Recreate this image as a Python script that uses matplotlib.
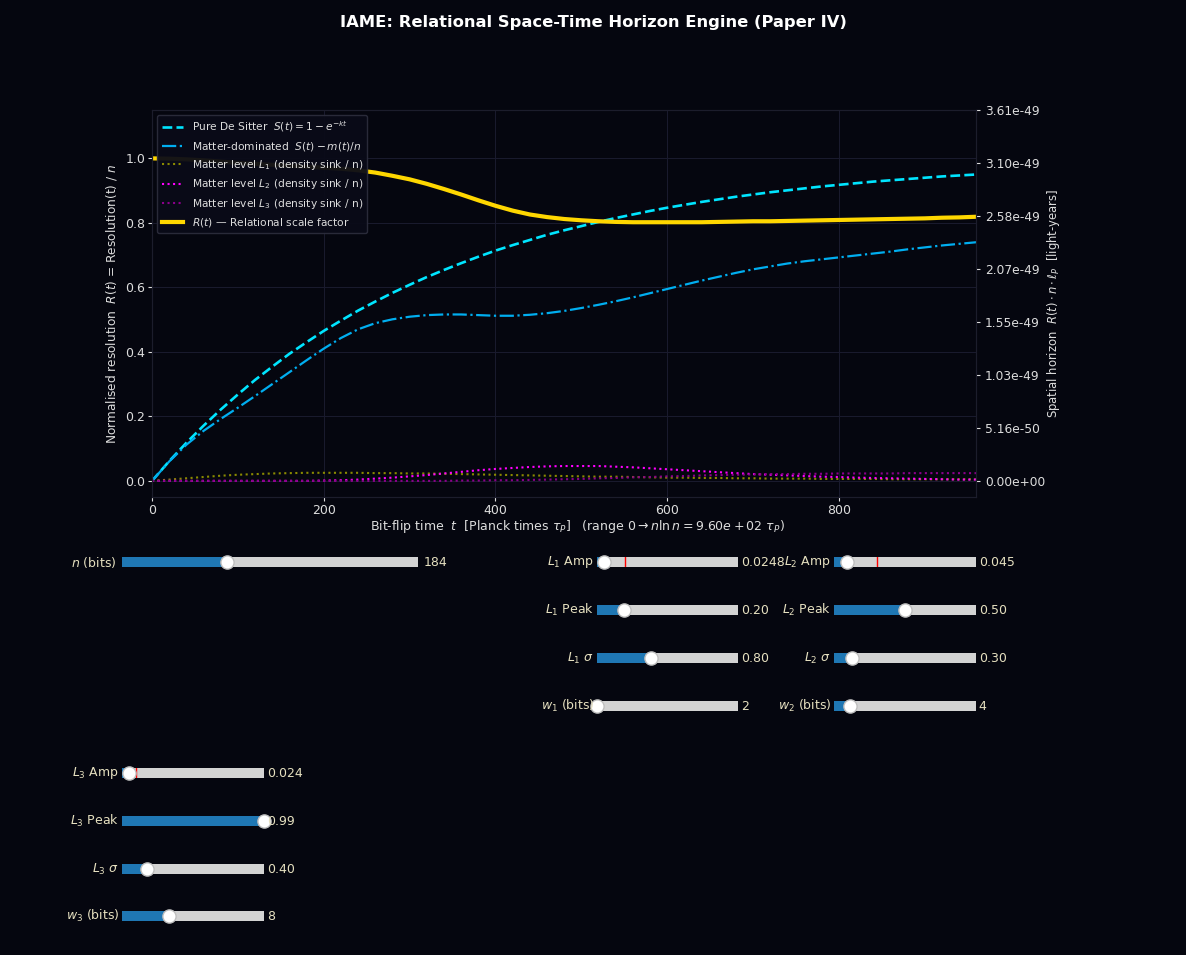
import numpy as np
import matplotlib
matplotlib.use("Agg")
import matplotlib.pyplot as plt
from matplotlib.widgets import Slider

# ---------------------------------------------------------------- data
n_bits = 184
PLANCK_LENGTH_LY = 1.70838e-51          # Planck length expressed in light-years

t_tau = [0, 20, 40, 60, 80, 100, 120, 140, 160, 180, 200, 220, 240, 260, 280,
         300, 320, 340, 360, 380, 400, 420, 440, 460, 480, 500, 520, 540, 560,
         580, 600, 620, 640, 660, 680, 700, 720, 740, 760, 780, 800, 820, 840,
         860, 880, 900, 920, 940, 960]

de_sitter = [0.000, 0.061, 0.118, 0.171, 0.221, 0.268, 0.313, 0.354, 0.394,
             0.430, 0.465, 0.497, 0.528, 0.556, 0.583, 0.608, 0.632, 0.654,
             0.675, 0.695, 0.714, 0.731, 0.747, 0.763, 0.777, 0.790, 0.803,
             0.815, 0.826, 0.837, 0.847, 0.856, 0.865, 0.873, 0.881, 0.888,
             0.895, 0.901, 0.907, 0.913, 0.918, 0.923, 0.928, 0.932, 0.936,
             0.940, 0.944, 0.947, 0.950]

matter_dom = [0.000, 0.060, 0.112, 0.155, 0.192, 0.227, 0.263, 0.300, 0.337,
              0.374, 0.410, 0.443, 0.470, 0.489, 0.501, 0.509, 0.514, 0.516,
              0.516, 0.514, 0.512, 0.512, 0.515, 0.520, 0.527, 0.536, 0.546,
              0.557, 0.569, 0.582, 0.595, 0.608, 0.621, 0.633, 0.645, 0.656,
              0.665, 0.674, 0.681, 0.687, 0.693, 0.699, 0.705, 0.711, 0.718,
              0.724, 0.730, 0.735, 0.740]

level_1 = [0.000, 0.004, 0.008, 0.012, 0.016, 0.019, 0.021, 0.023, 0.024,
           0.025, 0.025, 0.025, 0.025, 0.024, 0.024, 0.023, 0.023, 0.022,
           0.021, 0.020, 0.019, 0.018, 0.017, 0.016, 0.015, 0.014, 0.013,
           0.013, 0.012, 0.011, 0.010, 0.010, 0.009, 0.009, 0.008, 0.008,
           0.007, 0.007, 0.007, 0.006, 0.006, 0.006, 0.006, 0.005, 0.005,
           0.005, 0.005, 0.005, 0.005]

level_2 = [0.000, 0.000, 0.000, 0.000, 0.000, 0.000, 0.000, 0.000, 0.000,
           0.000, 0.001, 0.002, 0.004, 0.007, 0.010, 0.014, 0.018, 0.023,
           0.028, 0.033, 0.037, 0.040, 0.043, 0.045, 0.046, 0.046, 0.046,
           0.044, 0.042, 0.039, 0.036, 0.033, 0.030, 0.027, 0.024, 0.021,
           0.019, 0.017, 0.015, 0.013, 0.012, 0.010, 0.009, 0.008, 0.007,
           0.006, 0.005, 0.004, 0.004]

level_3 = [0.000, 0.000, 0.000, 0.000, 0.000, 0.000, 0.000, 0.000, 0.000,
           0.000, 0.000, 0.000, 0.000, 0.000, 0.000, 0.000, 0.000, 0.000,
           0.001, 0.001, 0.002, 0.002, 0.003, 0.004, 0.005, 0.006, 0.008,
           0.009, 0.011, 0.012, 0.014, 0.015, 0.017, 0.018, 0.019, 0.020,
           0.021, 0.021, 0.022, 0.022, 0.023, 0.023, 0.023, 0.023, 0.024,
           0.024, 0.024, 0.024, 0.024]

scale_factor = [1.000, 0.999, 0.997, 0.994, 0.990, 0.986, 0.983, 0.980, 0.977,
                0.974, 0.971, 0.968, 0.963, 0.956, 0.946, 0.935, 0.921, 0.905,
                0.888, 0.870, 0.853, 0.838, 0.826, 0.818, 0.812, 0.808, 0.805,
                0.803, 0.802, 0.802, 0.802, 0.802, 0.802, 0.803, 0.804, 0.805,
                0.805, 0.806, 0.807, 0.808, 0.809, 0.810, 0.811, 0.812, 0.813,
                0.814, 0.816, 0.817, 0.819]

# slider settings: current values, initial values (red marker), ranges
amp_values = [0.0248, 0.045, 0.024]
amp_inits = [0.10, 0.15, 0.05]
peak_values = [0.20, 0.50, 0.99]
sigma_values = [0.80, 0.30, 0.40]
width_values = [2, 4, 8]

# ---------------------------------------------------------------- style
BG = "#05060f"
TXT = "#dddddd"
SLIDER_TXT = "#e6e0c0"

W, H = 1186, 955
fig = plt.figure(figsize=(W / 100, H / 100), dpi=100, facecolor=BG)


def px_rect(x0, x1, y0, y1):
    """Figure rectangle from pixel edges (origin top-left)."""
    return [x0 / W, 1 - y1 / H, (x1 - x0) / W, (y1 - y0) / H]


ax = fig.add_axes(px_rect(152, 976, 110, 497))
ax.set_facecolor(BG)

ax.plot(t_tau, de_sitter, color="#00e5ff", lw=1.9, ls="--",
        label=r"Pure De Sitter  $S(t) = 1 - e^{-kt}$")
ax.plot(t_tau, matter_dom, color="#00aef0", lw=1.6, ls="-.",
        label=r"Matter-dominated  $S(t) - m(t)/n$")
ax.plot(t_tau, level_1, color="#8a8a00", lw=1.5, ls=":",
        label=r"Matter level $L_1$ (density sink / n)")
ax.plot(t_tau, level_2, color="#ff00ff", lw=1.5, ls=":",
        label=r"Matter level $L_2$ (density sink / n)")
ax.plot(t_tau, level_3, color="#8b008b", lw=1.5, ls=":",
        label=r"Matter level $L_3$ (density sink / n)")
ax.plot(t_tau, scale_factor, color="#ffd700", lw=3.0,
        label=r"$R(t)$ — Relational scale factor")

t_max = n_bits * np.log(n_bits)
ax.set_xlim(0, t_max)
ax.set_ylim(-0.05, 1.15)
ax.set_yticks([0.0, 0.2, 0.4, 0.6, 0.8, 1.0])
ax.grid(True, color="#1a1b2e", lw=0.7)
ax.tick_params(colors=TXT, labelsize=9, length=3, pad=2)
for sp in ax.spines.values():
    sp.set_color("#1c1d2c")

ax.set_xlabel(r"Bit-flip time  $t$  [Planck times $\tau_P$]   "
              r"(range $0 \rightarrow n\ln n = 9.60e+02\ \tau_P$)",
              color=TXT, fontsize=9, labelpad=1)
ax.xaxis.label.set_x(0.516)
ax.set_ylabel(r"Normalised resolution  $R(t)$ = Resolution(t) / $n$",
              color=TXT, fontsize=8.7)

leg = ax.legend(loc="upper left", fontsize=7.7, facecolor="#0a0b18",
                edgecolor="#2c2d3c", framealpha=0.95, labelcolor=TXT)

# secondary axis: physical horizon size
horizon_scale = n_bits * PLANCK_LENGTH_LY
ax2 = ax.twinx()
ax2.set_ylim(-0.05 * horizon_scale, 1.15 * horizon_scale)
ax2.set_yticks(np.linspace(0, 1.15 * horizon_scale, 8))
ax2.yaxis.set_major_formatter(plt.FormatStrFormatter("%.2e"))
ax2.tick_params(colors=TXT, labelsize=8.8, length=3)
for sp in ax2.spines.values():
    sp.set_color("#1c1d2c")
ax2.set_ylabel(r"Spatial horizon  $R(t)\cdot n\cdot \ell_P$  [light-years]",
               color=TXT, fontsize=8.4, labelpad=0)

fig.text(0.5, 0.9765, "IAME: Relational Space-Time Horizon Engine (Paper IV)",
         ha="center", va="center", color="white", fontsize=11.8,
         fontweight="bold")

# ---------------------------------------------------------------- sliders
sliders = []


def add_slider(x0, x1, yc, label, vmin, vmax, value, fmt, init=None, step=None):
    sax = fig.add_axes(px_rect(x0, x1, yc - 10, yc + 10))
    sax.set_facecolor(BG)
    s = Slider(sax, label, vmin, vmax,
               valinit=value if init is None else init,
               valfmt=fmt, valstep=step,
               handle_style={"size": 9.5})
    if init is not None:
        s.set_val(value)
    s.label.set_color(SLIDER_TXT)
    s.valtext.set_color(SLIDER_TXT)
    s.label.set_fontsize(9)
    s.valtext.set_fontsize(9)
    sliders.append(s)
    return s


add_slider(122, 418, 562, r"$n$ (bits)", 10, 500, n_bits, "%d", step=1)

columns = [(597, 738, [562, 610, 658, 706]),
           (834, 976, [562, 610, 658, 706]),
           (122, 264, [773, 821, 869, 916])]

for i, (x0, x1, ys) in enumerate(columns):
    k = i + 1
    add_slider(x0, x1, ys[0], rf"$L_{k}$ Amp", 0.0, 0.5,
               amp_values[i], "%.3g", init=amp_inits[i])
    add_slider(x0, x1, ys[1], rf"$L_{k}$ Peak", 0.01, 0.99,
               peak_values[i], "%.2f")
    add_slider(x0, x1, ys[2], rf"$L_{k}$ $\sigma$", 0.05, 2.0,
               sigma_values[i], "%.2f")
    add_slider(x0, x1, ys[3], rf"$w_{k}$ (bits)", 2, 20,
               width_values[i], "%d", step=1)

fig.savefig("out.png", dpi=100, facecolor=BG)
